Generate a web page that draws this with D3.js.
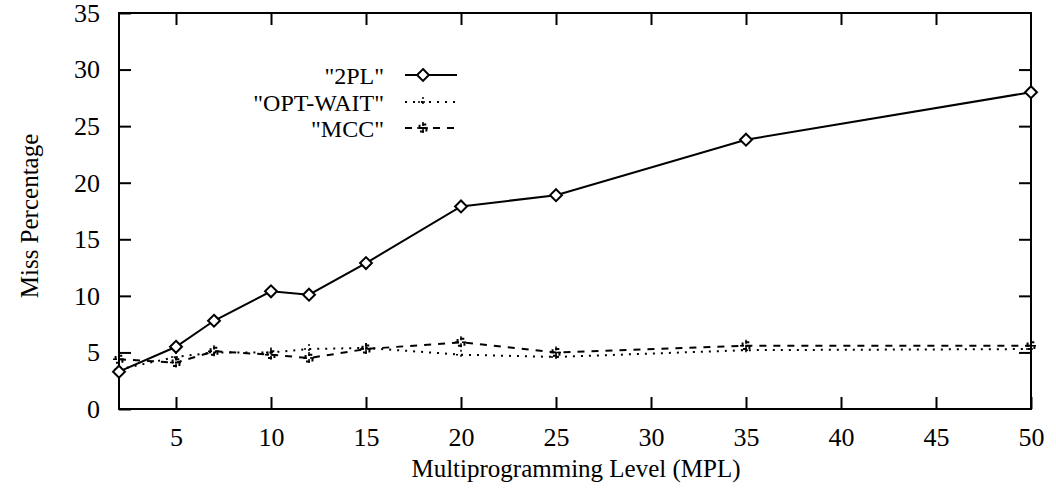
<!DOCTYPE html>
<html>
<head>
<meta charset="utf-8">
<script src="https://cdnjs.cloudflare.com/ajax/libs/d3/7.8.5/d3.min.js"></script>
<style>
  body { margin: 0; background: #fff; }
</style>
</head>
<body>
<div id="chart"></div>
<script>
// multiprogramming levels on the x axis
const mpl = [2, 5, 7, 10, 12, 15, 20, 25, 35, 50]

// miss percentage per protocol
const twoPL = [3.3, 5.5, 7.8, 10.4, 10.1, 12.9, 17.9, 18.9, 23.8, 28.0]
const optWait = [3.5, 4.6, 5.0, 5.0, 5.3, 5.4, 4.8, 4.6, 5.2, 5.3]
const mcc = [4.4, 4.1, 5.1, 4.8, 4.5, 5.3, 5.9, 5.0, 5.6, 5.6]

const xTicks = [5, 10, 15, 20, 25, 30, 35, 40, 45, 50]
const yTicks = [0, 5, 10, 15, 20, 25, 30, 35]

const seriesNames = ['"2PL"', '"OPT-WAIT"', '"MCC"']

// pick the first serif family the browser really has (canvas width check)
const pickFont = (cands) => {
  const ctx = document.createElement('canvas').getContext('2d')
  const probe = 'Multiprogramming 0123456789 WAIT'
  ctx.font = '40px monospace'
  const base = ctx.measureText(probe).width
  for (const c of cands) {
    ctx.font = `40px "${c}", monospace`
    if (Math.abs(ctx.measureText(probe).width - base) > 0.5) return `"${c}"`
  }
  return 'serif'
}
const FONT = pickFont(['Liberation Serif', 'Times New Roman', 'Times', 'Tinos', 'Nimbus Roman', 'DejaVu Serif', 'Noto Serif'])

const W = 1056
const H = 491
const margin = { top: 13, right: 25, bottom: 82, left: 119 }
const width = W - margin.left - margin.right
const height = H - margin.top - margin.bottom

const x = d3.scaleLinear().domain([2, 50]).range([0, width])
const y = d3.scaleLinear().domain([0, 35]).range([height, 0])

const svg = d3.select('#chart').append('svg')
  .attr('width', W)
  .attr('height', H)

const g = svg.append('g')
  .attr('transform', `translate(${margin.left},${margin.top})`)

// frame
g.append('rect')
  .attr('width', width)
  .attr('height', height)
  .attr('fill', 'none')
  .attr('stroke', '#000')
  .attr('stroke-width', 2)

const tickLen = 12

// bottom + top ticks (inward)
const xAxis = g.append('g').attr('transform', `translate(0,${height})`)
  .call(d3.axisBottom(x).tickValues(xTicks).tickSize(-tickLen).tickPadding(19))
xAxis.select('.domain').remove()
xAxis.selectAll('line').attr('stroke-width', 2)
xAxis.selectAll('text').style('font-family', FONT).style('font-size', '26px').attr('fill', '#000')

const xTop = g.append('g')
  .call(d3.axisTop(x).tickValues(xTicks.slice(0, -1)).tickSize(-tickLen).tickFormat(''))
xTop.select('.domain').remove()
xTop.selectAll('line').attr('stroke-width', 2)

// left + right ticks (inward)
const yAxis = g.append('g')
  .call(d3.axisLeft(y).tickValues(yTicks).tickSize(-tickLen).tickPadding(19))
yAxis.select('.domain').remove()
yAxis.selectAll('line').attr('stroke-width', 2)
yAxis.selectAll('text').style('font-family', FONT).style('font-size', '26px').attr('fill', '#000')

const yRight = g.append('g').attr('transform', `translate(${width},0)`)
  .call(d3.axisRight(y).tickValues(yTicks.slice(1, -1)).tickSize(-tickLen).tickFormat(''))
yRight.select('.domain').remove()
yRight.selectAll('line').attr('stroke-width', 2)

// axis titles
svg.append('text')
  .attr('x', 576)
  .attr('y', 477)
  .attr('text-anchor', 'middle')
  .style('font-family', FONT)
  .style('font-size', '25px')
  .text('Multiprogramming Level (MPL)')

svg.append('text')
  .attr('transform', `translate(38,${margin.top + height / 2 + 5}) rotate(-90)`)
  .attr('text-anchor', 'middle')
  .style('font-family', FONT)
  .style('font-size', '25px')
  .text('Miss Percentage')

const line = d3.line()
  .x((d, i) => x(mpl[i]))
  .y(d => y(d))

const styles = [
  { dash: null, width: 2 },
  { dash: '2,6', width: 2 },
  { dash: '7,7', width: 2 }
]

const seriesData = [twoPL, optWait, mcc]

const diamond = d3.symbol().type(d3.symbolDiamond2).size(90)
const square = d3.symbol().type(d3.symbolSquare2).size(60)

const drawMarker = (sel, idx) => {
  if (idx === 0) {
    sel.append('path').attr('d', diamond)
      .attr('fill', '#fff').attr('stroke', '#000').attr('stroke-width', 2)
  } else if (idx === 1) {
    sel.append('path').attr('d', 'M-5,0H5M0,-5V5')
      .attr('fill', 'none').attr('stroke', '#000').attr('stroke-width', 1.5)
      .attr('stroke-dasharray', '2,3')
  } else {
    sel.append('path').attr('d', square)
      .attr('fill', 'none').attr('stroke', '#000').attr('stroke-width', 2)
      .attr('stroke-dasharray', '4,3')
    sel.append('path').attr('d', 'M-6,0H6M0,-6V6')
      .attr('fill', 'none').attr('stroke', '#000').attr('stroke-width', 1.5)
      .attr('stroke-dasharray', '4,3')
  }
}

// draw the lower two first so 2PL sits on top
;[2, 1, 0].forEach((idx) => {
  const st = styles[idx]
  g.append('path')
    .datum(seriesData[idx])
    .attr('fill', 'none')
    .attr('stroke', '#000')
    .attr('stroke-width', st.width)
    .attr('stroke-dasharray', st.dash)
    .attr('d', line)

  g.selectAll(`.pt-${idx}`)
    .data(seriesData[idx])
    .enter().append('g')
    .attr('class', `pt-${idx}`)
    .attr('transform', (d, i) => `translate(${x(mpl[i])},${y(d)})`)
    .each(function () { drawMarker(d3.select(this), idx) })
})

// legend
const legend = svg.append('g')
const legendRowY = [75, 102, 128]
seriesNames.forEach((name, idx) => {
  const row = legend.append('g').attr('transform', `translate(0,${legendRowY[idx]})`)
  row.append('text')
    .attr('x', 384)
    .attr('y', 9)
    .attr('text-anchor', 'end')
    .style('font-family', FONT)
    .style('font-size', '24px')
    .text(name)
  row.append('line')
    .attr('x1', 405).attr('x2', 457)
    .attr('stroke', '#000')
    .attr('stroke-width', styles[idx].width)
    .attr('stroke-dasharray', styles[idx].dash)
  const mk = row.append('g').attr('transform', 'translate(423,0)')
  drawMarker(mk, idx)
})
</script>
</body>
</html>
